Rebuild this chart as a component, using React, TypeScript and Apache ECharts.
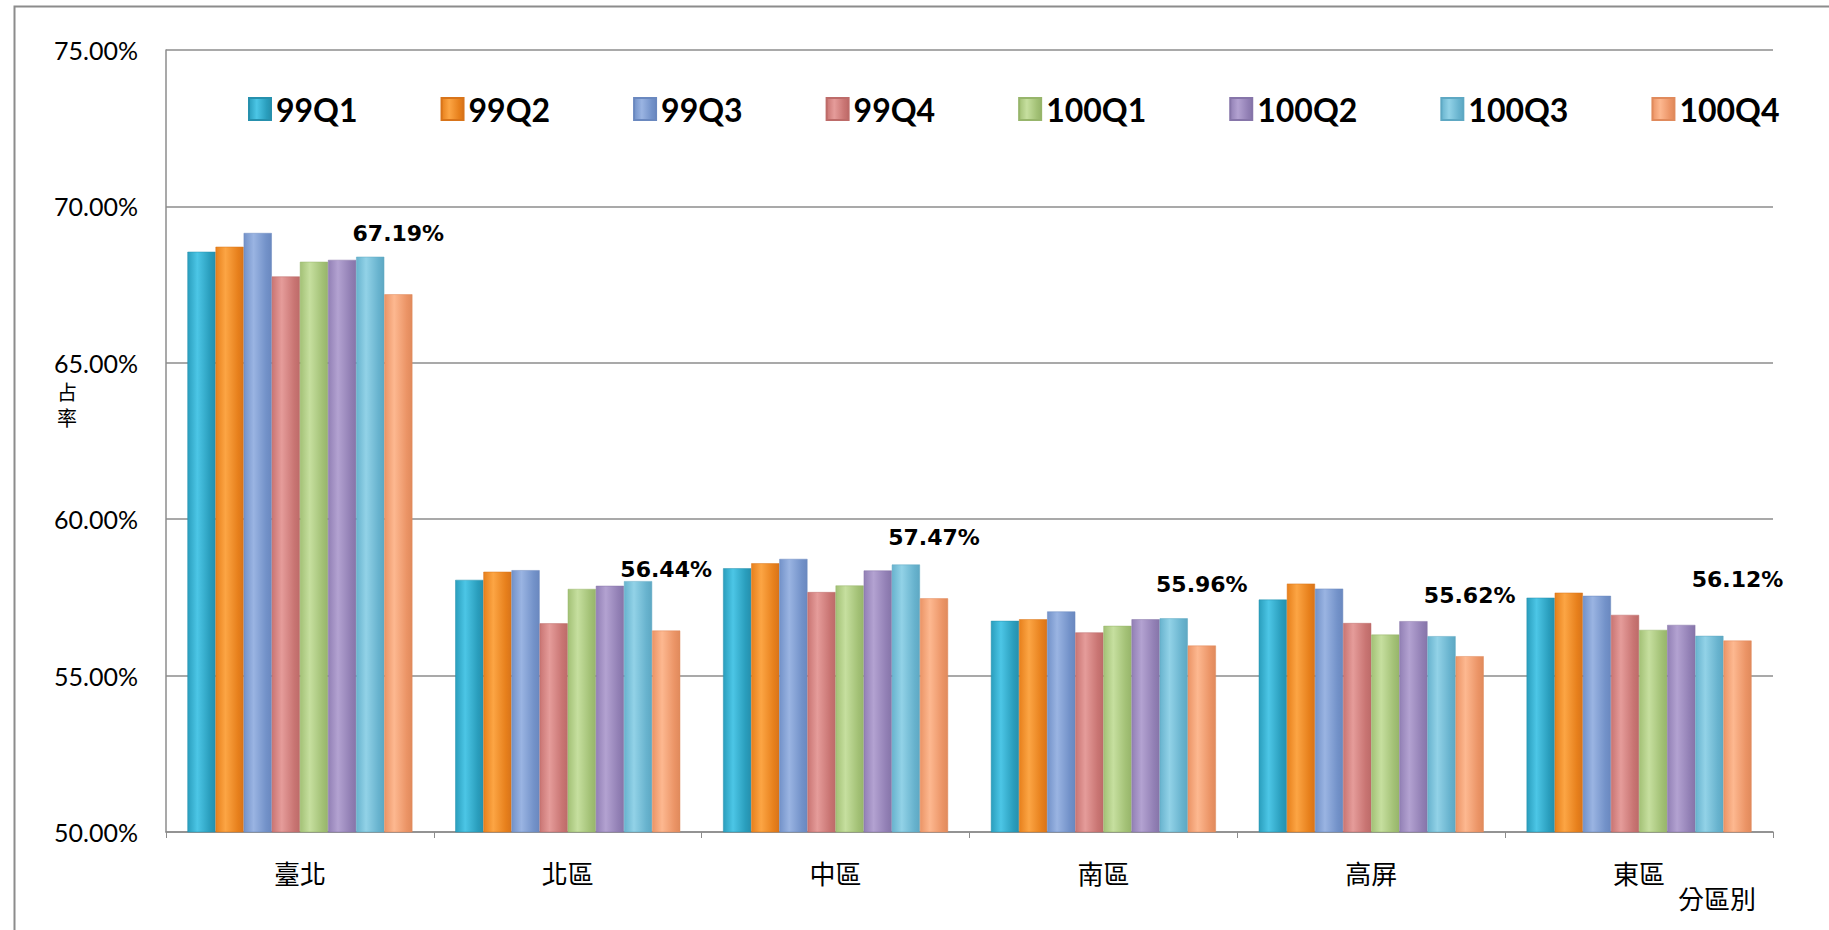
import React, { useEffect, useRef } from "react";
import * as echarts from "echarts";

const categories = ["臺北", "北區", "中區", "南區", "高屏", "東區"];
const seriesNames = ["99Q1", "99Q2", "99Q3", "99Q4", "100Q1", "100Q2", "100Q3", "100Q4"];

const v99Q1 = [68.55, 58.06, 58.43, 56.75, 57.43, 57.49];
const v99Q2 = [68.71, 58.32, 58.59, 56.8, 57.94, 57.65];
const v99Q3 = [69.15, 58.37, 58.73, 57.05, 57.78, 57.55];
const v99Q4 = [67.76, 56.67, 57.67, 56.38, 56.68, 56.94];
const v100Q1 = [68.23, 57.77, 57.88, 56.59, 56.31, 56.46];
const v100Q2 = [68.29, 57.87, 58.36, 56.8, 56.74, 56.62];
const v100Q3 = [68.39, 58.02, 58.55, 56.83, 56.26, 56.27];
const v100Q4 = [67.19, 56.44, 57.47, 55.96, 55.62, 56.12];

const seriesValues = [v99Q1, v99Q2, v99Q3, v99Q4, v100Q1, v100Q2, v100Q3, v100Q4];

const yTicks = { min: 50, max: 75, interval: 5 };

const palette = [
  ["#2a9ebd", "#4cc6e6", "#2690ad"],
  ["#e7801c", "#fca544", "#d8741a"],
  ["#7392c9", "#9ab4e2", "#6a88bf"],
  ["#c97573", "#e59c9a", "#bd6b69"],
  ["#a3c176", "#c6df9f", "#97b56b"],
  ["#9280b5", "#b3a2d1", "#8675a9"],
  ["#68b3ce", "#92d2e7", "#5ea8c3"],
  ["#eb9466", "#fdb890", "#e08a5c"],
];

function grad(i: number) {
  const [edge, mid, dark] = palette[i];
  return new echarts.graphic.LinearGradient(0, 0, 1, 0, [
    { offset: 0, color: edge },
    { offset: 0.35, color: mid },
    { offset: 0.8, color: edge },
    { offset: 1, color: dark },
  ]);
}

export default function App() {
  const ref = useRef<HTMLDivElement>(null);
  useEffect(() => {
    if (!ref.current) return;
    const chart = echarts.init(ref.current, undefined, { renderer: "svg" });
    const series = seriesNames.map((name, i) => ({
      name,
      type: "bar",
      data: seriesValues[i],
      barGap: "0%",
      barCategoryGap: "16%",
      itemStyle: { color: grad(i), borderColor: palette[i][2], borderWidth: 0.5 },
      label:
        i === seriesNames.length - 1
          ? {
              show: true,
              position: "top",
              distance: 50,
              formatter: (p: any) => p.value.toFixed(2) + "%",
              fontFamily: "DejaVu Sans",
              fontWeight: "bold",
              fontSize: 22,
              color: "#000",
            }
          : { show: false },
    }));
    chart.setOption({
      animation: false,
      backgroundColor: "#fff",
      color: palette.map((p) => p[1]),
      grid: { left: 166, right: 56, top: 50, bottom: 98 },
      legend: {
        data: seriesNames,
        left: 243,
        top: 88,
        itemWidth: 22,
        itemHeight: 22,
        itemGap: 83,
        icon: "rect",
        textStyle: {
          fontFamily: "Lato",
          fontWeight: "bold",
          fontSize: 32,
          color: "#000",
        },
      },
      xAxis: {
        type: "category",
        data: categories,
        axisLine: { lineStyle: { color: "#8c8c8c", width: 1.5 } },
        axisTick: { show: true, length: 6, lineStyle: { color: "#8c8c8c" } },
        axisLabel: {
          margin: 27,
          fontSize: 26,
          color: "#000",
          fontFamily: "Noto Sans CJK TC",
        },
      },
      yAxis: {
        type: "value",
        min: yTicks.min,
        max: yTicks.max,
        interval: yTicks.interval,
        axisLine: { show: true, lineStyle: { color: "#8c8c8c", width: 1.5 } },
        axisTick: { show: false },
        splitLine: { lineStyle: { color: "#8c8c8c", width: 1.5 } },
        axisLabel: {
          margin: 28,
          fontSize: 25,
          color: "#000",
          fontFamily: "Lato",
          formatter: (v: number) => v.toFixed(2) + "%",
        },
      },
      graphic: [
        {
          type: "rect",
          left: 12,
          top: 4,
          shape: { width: 1840, height: 960 },
          style: { fill: "none", stroke: "#8c8c8c", lineWidth: 2 },
          silent: true,
        },
        {
          type: "text",
          left: 57,
          top: 378,
          style: {
            text: "占\n率",
            fontSize: 20,
            lineHeight: 26,
            fontFamily: "Noto Sans CJK TC",
            fill: "#000",
            textAlign: "center",
          },
        },
        {
          type: "text",
          left: 1678,
          top: 884,
          style: {
            text: "分區別",
            fontSize: 26,
            fontFamily: "Noto Sans CJK TC",
            fill: "#000",
          },
        },
      ],
      series,
    });
    return () => chart.dispose();
  }, []);
  return (
    <div
      ref={ref}
      style={{ position: "absolute", left: 0, top: 0, width: 1829, height: 930 }}
    />
  );
}
